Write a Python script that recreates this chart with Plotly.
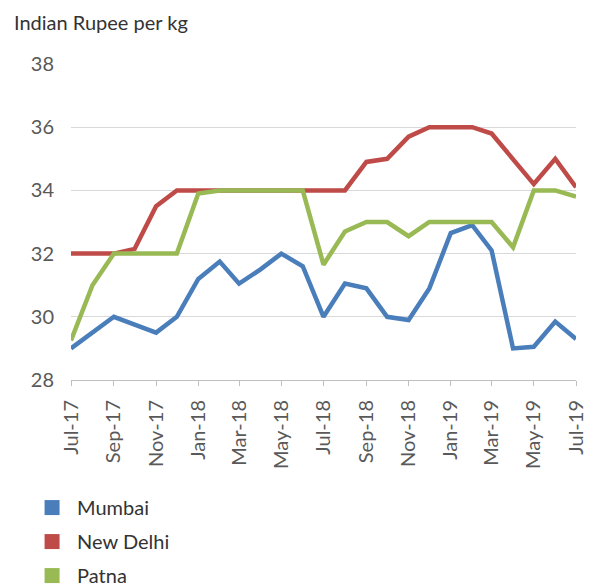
import plotly.graph_objects as go

# monthly, Jul-17 .. Jul-19
months = [
    "2017-07-01", "2017-08-01", "2017-09-01", "2017-10-01", "2017-11-01", "2017-12-01",
    "2018-01-01", "2018-02-01", "2018-03-01", "2018-04-01", "2018-05-01", "2018-06-01",
    "2018-07-01", "2018-08-01", "2018-09-01", "2018-10-01", "2018-11-01", "2018-12-01",
    "2019-01-01", "2019-02-01", "2019-03-01", "2019-04-01", "2019-05-01", "2019-06-01",
    "2019-07-01",
]

mumbai = [29.0, 29.5, 30.0, 29.75, 29.5, 30.0,
          31.2, 31.75, 31.05, 31.5, 32.0, 31.6,
          30.0, 31.05, 30.9, 30.0, 29.9, 30.9,
          32.65, 32.9, 32.1, 29.0, 29.05, 29.85,
          29.3]
new_delhi = [32.0, 32.0, 32.0, 32.15, 33.5, 34.0,
             34.0, 34.0, 34.0, 34.0, 34.0, 34.0,
             34.0, 34.0, 34.9, 35.0, 35.7, 36.0,
             36.0, 36.0, 35.8, 35.0, 34.2, 35.0,
             34.1]
patna = [29.25, 31.0, 32.0, 32.0, 32.0, 32.0,
         33.9, 34.0, 34.0, 34.0, 34.0, 34.0,
         31.65, 32.7, 33.0, 33.0, 32.55, 33.0,
         33.0, 33.0, 33.0, 32.2, 34.0, 34.0,
         33.8]

series = [("Mumbai", mumbai, "#4A7EBB"),
          ("New Delhi", new_delhi, "#BE4B48"),
          ("Patna", patna, "#98B954")]

grey = "#595959"
font_family = "Lato, 'Open Sans', sans-serif"

fig = go.Figure()
for name, vals, color in series:
    fig.add_trace(go.Scatter(
        x=months, y=vals, mode="lines", name=name,
        line=dict(color=color, width=4.5), showlegend=False,
    ))
    # legend entry drawn as a square swatch
    fig.add_trace(go.Scatter(
        x=[None], y=[None], mode="markers", name=name, legendgroup=name,
        marker=dict(symbol="square", size=15, color=color),
    ))

# page body has an 8px margin, so the figure is a little smaller than the window
fig.update_layout(
    width=590, height=580,
    margin=dict(l=63, r=22, t=56, b=208, autoexpand=False),
    paper_bgcolor="white", plot_bgcolor="white",
    font=dict(family=font_family, color=grey, size=13),
    showlegend=True,
    legend=dict(
        x=-0.087, y=-0.342, xanchor="left", yanchor="top",
        orientation="v", tracegroupgap=5, itemwidth=40,
        font=dict(size=20, color="#333333"),
    ),
    annotations=[dict(
        text="Indian Rupee per kg", xref="paper", yref="paper",
        x=-0.117, y=1.133, xanchor="left", yanchor="middle", showarrow=False,
        font=dict(size=20, color="#333333"),
    )],
)

fig.update_xaxes(
    type="date", range=["2017-07-01", "2019-07-01"],
    tick0="2017-07-01", dtick="M2", tickformat="%b-%y",
    tickangle=-90, showgrid=False, automargin=False,
    showline=True, linecolor="#BFBFBF", linewidth=1,
    ticks="outside", ticklen=5, tickcolor="#BFBFBF",
    tickfont=dict(size=20, color=grey), ticklabelstandoff=6,
)
fig.update_yaxes(
    range=[28, 38], dtick=2, showgrid=True, gridcolor="#D9D9D9", gridwidth=1,
    zeroline=False, showline=False, ticks="", automargin=False,
    tickfont=dict(size=20, color=grey), ticklabelstandoff=16,
)

fig.write_html("out.html")
